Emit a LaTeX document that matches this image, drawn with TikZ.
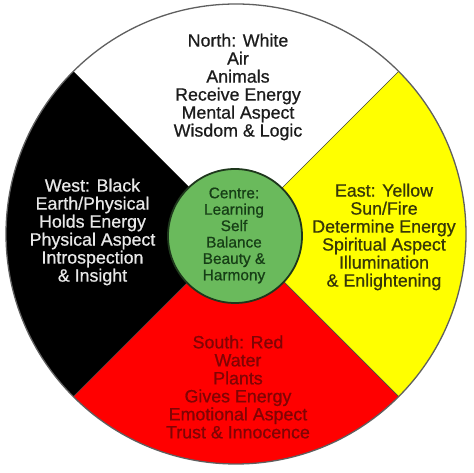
\documentclass[tikz,border=0pt]{standalone}
\usepackage{fontspec}
\usetikzlibrary{calc}
\setmainfont{Liberation Sans}
\newfontfamily\wheelfont{Liberation Sans}[FakeBold=0.7]
\definecolor{wyellow}{RGB}{255,255,0}
\definecolor{wred}{RGB}{255,0,0}
\definecolor{wgreen}{RGB}{106,186,92}
\definecolor{wgreenline}{RGB}{30,55,28}
\definecolor{rimgray}{RGB}{95,95,95}
\definecolor{txtnorth}{RGB}{28,28,28}
\definecolor{txtwest}{RGB}{232,232,232}
\definecolor{txteast}{RGB}{55,55,8}
\definecolor{txtsouth}{RGB}{128,4,4}
\definecolor{txtcentre}{RGB}{22,62,22}
\tikzset{
  quadtext/.style={align=center, inner sep=0pt, font=\wheelfont\fontsize{17.8}{18}\selectfont},
  centretext/.style={align=center, inner sep=0pt, font=\wheelfont\fontsize{15.4}{16.4}\selectfont},
  divider/.style={draw=rimgray!70!black, line width=0.7pt}
}
\begin{document}
\begin{tikzpicture}[x=1pt,y=1pt]
\useasboundingbox (0,0) rectangle (474,473);
\fill[white] (0,0) rectangle (474,473);
\coordinate (C) at (236,239);
% sectors
\fill[white] (C) -- ++(45:230) arc[start angle=45, end angle=135, radius=230] -- cycle;
\fill[black] (C) -- ++(135:230) arc[start angle=135, end angle=225, radius=230] -- cycle;
\fill[wred] (C) -- ++(225:230) arc[start angle=225, end angle=315, radius=230] -- cycle;
\fill[wyellow] (C) -- ++(-45:230) arc[start angle=-45, end angle=45, radius=230] -- cycle;
% dividers
\coordinate (NE) at ($(C)+(45:230)$);
\coordinate (NW) at ($(C)+(135:230)$);
\coordinate (SW) at ($(C)+(225:230)$);
\coordinate (SE) at ($(C)+(315:230)$);
\draw[divider] (C) -- (NE);
\draw[divider] (C) -- (SE);
\draw[divider] (C) -- (SW);
% rim
\draw[rimgray, line width=1.3pt] (C) circle[radius=230];
% centre
\node[circle, draw=wgreenline, line width=1.8pt, fill=wgreen, minimum size=134pt, inner sep=0pt] (centre) at (235,237) {};
% texts
\node[quadtext, text=txtnorth] (north) at (238,386) {North: White\\Air\\Animals\\Receive Energy\\Mental Aspect\\Wisdom \& Logic};
\node[quadtext, text=txtwest] (west) at (92.5,241) {West: Black\\Earth/Physical\\Holds Energy\\Physical Aspect\\Introspection\\\& Insight};
\node[quadtext, text=txteast] (east) at (384,236) {East: Yellow\\Sun/Fire\\Determine Energy\\Spiritual Aspect\\Illumination\\\& Enlightening};
\node[quadtext, text=txtsouth] (south) at (238,86) {South: Red\\Water\\Plants\\Gives Energy\\Emotional Aspect\\Trust \& Innocence};
\node[centretext, text=txtcentre] (centretxt) at (234,237.5) {Centre:\\Learning\\Self\\Balance\\Beauty \&\\Harmony};
\end{tikzpicture}
\end{document}
